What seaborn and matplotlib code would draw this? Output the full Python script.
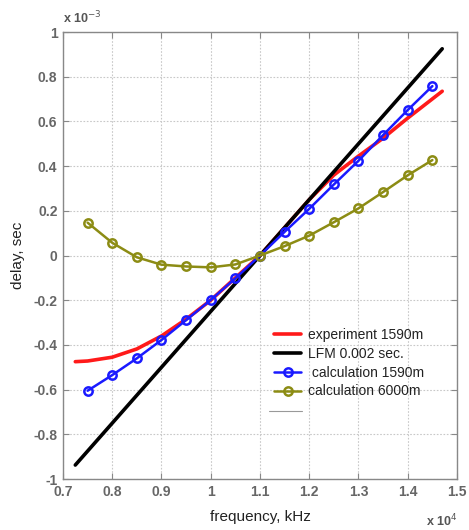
import numpy as np
import pandas as pd
import matplotlib
matplotlib.use("Agg")
import matplotlib.pyplot as plt
import seaborn as sns

# ---- data (x in units of 1e4 Hz, y in units of 1e-3 s) ----
exp_x = [0.725, 0.75, 0.8, 0.85, 0.9, 0.95, 1.0, 1.05, 1.1, 1.15, 1.2, 1.25, 1.3, 1.35, 1.4, 1.47]
exp_y = [-0.475, -0.472, -0.455, -0.418, -0.36, -0.285, -0.2, -0.1, 0.0, 0.125, 0.25, 0.36, 0.445, 0.525, 0.615, 0.735]

lfm_x = [0.725, 1.47]
lfm_y = [-0.9375, 0.925]

calc_x = [0.75, 0.8, 0.85, 0.9, 0.95, 1.0, 1.05, 1.1, 1.15, 1.2, 1.25, 1.3, 1.35, 1.4, 1.45]
calc1590_y = [-0.605, -0.535, -0.46, -0.378, -0.289, -0.199, -0.102, 0.0, 0.106, 0.209, 0.318, 0.424, 0.539, 0.651, 0.758]
calc6000_y = [0.147, 0.057, -0.008, -0.041, -0.049, -0.053, -0.04, 0.0, 0.042, 0.089, 0.149, 0.211, 0.284, 0.359, 0.427]

labels = ["experiment 1590m", "LFM 0.002 sec.", " calculation 1590m", "calculation 6000m"]
xticks = [0.7, 0.8, 0.9, 1.0, 1.1, 1.2, 1.3, 1.4, 1.5]
xtick_labels = ["0.7", "0.8", "0.9", "1", "1.1", "1.2", "1.3", "1.4", "1.5"]
yticks = [-1, -0.8, -0.6, -0.4, -0.2, 0, 0.2, 0.4, 0.6, 0.8, 1]
ytick_labels = ["-1", "-0.8", "-0.6", "-0.4", "-0.2", "0", "0.2", "0.4", "0.6", "0.8", "1"]

sns.set_style("white")
plt.rcParams["font.family"] = ["Liberation Sans", "DejaVu Sans"]

fig = plt.figure(figsize=(4.69, 5.30), dpi=100)
ax = fig.add_axes([0.1343, 0.0962, 0.8401, 0.8434])

df_exp = pd.DataFrame({"x": exp_x, "y": exp_y})
df_lfm = pd.DataFrame({"x": lfm_x, "y": lfm_y})
df_c1 = pd.DataFrame({"x": calc_x, "y": calc1590_y})
df_c2 = pd.DataFrame({"x": calc_x, "y": calc6000_y})

sns.lineplot(data=df_exp, x="x", y="y", ax=ax, color="#ff1a1a", lw=2.6,
             sort=False, estimator=None, label=labels[0])
sns.lineplot(data=df_lfm, x="x", y="y", ax=ax, color="black", lw=2.6,
             sort=False, estimator=None, label=labels[1])
sns.lineplot(data=df_c1, x="x", y="y", ax=ax, color="#1a1aff", lw=1.8,
             marker="o", markersize=6, markerfacecolor="none", markeredgewidth=1.8,
             markeredgecolor="#1a1aff",
             sort=False, estimator=None, label=labels[2])
sns.lineplot(data=df_c2, x="x", y="y", ax=ax, color="#8c8c14", lw=1.8,
             marker="o", markersize=6, markerfacecolor="none", markeredgewidth=1.8,
             markeredgecolor="#8c8c14",
             sort=False, estimator=None, label=labels[3])

ax.set_xlim(0.7, 1.5)
ax.set_ylim(-1, 1)
ax.set_xticks(xticks)
ax.set_xticklabels(xtick_labels)
ax.set_yticks(yticks)
ax.set_yticklabels(ytick_labels)
ax.grid(True, color="#c8c8c8", linestyle=(0, (1.5, 1.5)), linewidth=0.8)
ax.tick_params(direction="in", length=4, color="#888888", labelcolor="#666666",
               labelsize=10, top=True, right=True, bottom=True, left=True, pad=4)
for lab in ax.get_xticklabels() + ax.get_yticklabels():
    lab.set_fontweight("bold")
for sp in ax.spines.values():
    sp.set_color("#888888")
    sp.set_linewidth(1.0)

ax.set_xlabel("frequency, kHz", fontsize=11, color="#222222", labelpad=8)
ax.set_ylabel("delay, sec", fontsize=11, color="#222222", labelpad=6)

ax.text(0.0, 1.012, "x 10$^{-3}$", transform=ax.transAxes, fontsize=9,
        color="#555555", fontweight="bold", ha="left", va="bottom")
ax.text(1.0, -0.075, "x 10$^{4}$", transform=ax.transAxes, fontsize=9,
        color="#555555", fontweight="bold", ha="right", va="top")

leg = ax.legend(loc="upper left", bbox_to_anchor=(0.51, 0.36), frameon=False,
                fontsize=10, handlelength=2.0, handletextpad=0.5,
                labelspacing=0.35, borderpad=0.2)
for t in leg.get_texts():
    t.set_color("#222222")

# thin underline below the legend
fig.add_artist(plt.Line2D([269 / 469, 302 / 469], [1 - 410.5 / 530, 1 - 410.5 / 530],
                          color="#999999", lw=0.8))

fig.savefig("out.png", dpi=100)
